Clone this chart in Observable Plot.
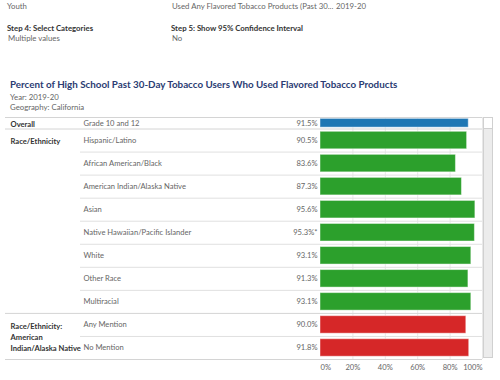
<!DOCTYPE html>
<html>
<head>
<meta charset="utf-8">
<script src="https://cdn.jsdelivr.net/npm/d3@7"></script>
<script src="https://cdn.jsdelivr.net/npm/@observablehq/plot@0.6"></script>
<style>
  body { margin: 0; background: #fff; font-family: Lato, sans-serif; }
  #page { position: relative; width: 500px; height: 380px; overflow: hidden; }
  .t { position: absolute; white-space: nowrap; line-height: 10px; font-size: 7.8px; color: #666; }
  .b { font-weight: 700; color: #333; }
  #title { font-size: 9.8px; font-weight: 700; color: #2b3c73; line-height: 12px; }
  #chart { position: absolute; left: 0; top: 110px; }
  #scroll { position: absolute; left: 483px; top: 117px; width: 10px; height: 241px; background: #ececec; border: 1px solid #d0d0d0; box-sizing: border-box; }
  #scrollTop { position: absolute; left: 0; top: 0; width: 8px; height: 10px; background: #fff; border-bottom: 1px solid #d0d0d0; }
</style>
</head>
<body>
<div id="page">
  <div class="t" style="left:7px; top:1px;">Youth</div>
  <div class="t" style="left:172px; top:1px;">Used Any Flavored Tobacco Products (Past 30...</div>
  <div class="t" style="left:336px; top:1px;">2019-20</div>
  <div class="t b" style="left:7px; top:23px;">Step 4: Select Categories</div>
  <div class="t" style="left:8px; top:33px;">Multiple values</div>
  <div class="t b" style="left:171px; top:23px;">Step 5: Show 95% Confidence Interval</div>
  <div class="t" style="left:172px; top:33px;">No</div>
  <div class="t" id="title" style="left:10px; top:78px;">Percent of High School Past 30-Day Tobacco Users Who Used Flavored Tobacco Products</div>
  <div class="t" style="left:10px; top:92px;">Year: 2019-20</div>
  <div class="t" style="left:10px; top:102px;">Geography: California</div>
  <div id="chart"></div>
  <div id="scroll"><div id="scrollTop"></div></div>
</div>
<script>
const groupNames = ["Overall", "Race/Ethnicity", "Race/Ethnicity:\nAmerican\nIndian/Alaska Native"];
const categories = ["Grade 10 and 12", "Hispanic/Latino", "African American/Black", "American Indian/Alaska Native", "Asian", "Native Hawaiian/Pacific Islander", "White", "Other Race", "Multiracial", "Any Mention", "No Mention"];
const categoryGroup = [0, 1, 1, 1, 1, 1, 1, 1, 1, 2, 2];
const values = [91.5, 90.5, 83.6, 87.3, 95.6, 95.3, 93.1, 91.3, 93.1, 90.0, 91.8];
const valueLabels = ["91.5%", "90.5%", "83.6%", "87.3%", "95.6%", "95.3%*", "93.1%", "91.3%", "93.1%", "90.0%", "91.8%"];
const groupColors = ["#1f77b4", "#2ca02c", "#d62728"];
const xTicks = [0, 20, 40, 60, 80, 100];

let pos = 0;
const rows = categories.map((c, i) => {
  const size = categoryGroup[i] === 0 ? 0.5 : 1;
  const r = {category: c, group: categoryGroup[i], value: values[i], label: valueLabels[i],
             y1: pos, y2: pos + size, ym: pos + size / 2, size};
  pos += size;
  return r;
});
const total = pos;
const groupFirst = rows.filter((r, i) => i === 0 || rows[i - 1].group !== r.group);
const groupBounds = [...groupFirst.map(r => r.y1), total];
const innerBounds = rows.filter((r, i) => i > 0 && rows[i - 1].group === r.group).map(r => r.y1);

const font = "Lato, sans-serif";
const fs = 7.6;
const chart = Plot.plot({
  width: 500,
  height: 270,
  marginLeft: 320,
  marginRight: 18,
  marginTop: 7,
  marginBottom: 21,
  style: {fontFamily: font, fontSize: fs + "px", color: "#666", background: "transparent"},
  x: {domain: [0, 100]},
  y: {domain: [0, total], reverse: true, axis: null},
  marks: [
    Plot.gridX(xTicks.slice(1), {stroke: "#e8e8e8", strokeOpacity: 1}),
    Plot.ruleY(innerBounds, {stroke: "#e0e0e0", insetLeft: -240}),
    Plot.ruleY(groupBounds, {stroke: "#d4d4d4", insetLeft: -315}),
    Plot.rect(rows, {
      x1: 0, x2: "value",
      y1: d => d.y1 + d.size * 0.12, y2: d => d.y2 - d.size * 0.12,
      fill: d => groupColors[d.group],
      stroke: "white", strokeOpacity: 0.45, strokeWidth: 1
    }),
    Plot.text(rows, {y: "ym", text: "category", frameAnchor: "left", dx: -237, textAnchor: "start", fill: "#666", fontSize: fs}),
    Plot.text(rows, {y: "ym", text: "label", frameAnchor: "left", dx: -3, textAnchor: "end", fill: "#666", fontSize: fs}),
    Plot.text(groupFirst, {y: "ym", text: d => groupNames[d.group], frameAnchor: "left", dx: -310, textAnchor: "start",
      lineAnchor: "top", dy: -4.5, lineHeight: 1.5, fill: "#333", fontWeight: 700, fontSize: fs}),
    Plot.axisX(xTicks.slice(1, -1), {tickSize: 0, tickPadding: 5, tickFormat: d => d + "%", label: null, fill: "#666"}),
    Plot.axisX([xTicks[0]], {tickSize: 0, tickPadding: 5, tickFormat: d => d + "%", label: null, textAnchor: "start", fill: "#666"}),
    Plot.axisX([xTicks[xTicks.length - 1]], {tickSize: 0, tickPadding: 5, tickFormat: d => d + "%", label: null, textAnchor: "end", fill: "#666"})
  ]
});
document.getElementById("chart").appendChild(chart);
</script>
</body>
</html>
